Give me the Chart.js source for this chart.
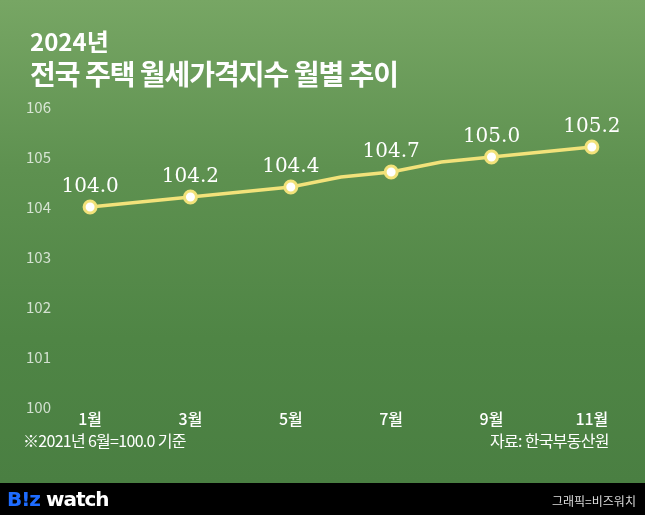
<!DOCTYPE html><html><head><meta charset="utf-8">
<script src="https://cdn.jsdelivr.net/npm/chart.js@4"></script>
<style>
body{margin:0;width:645px;height:515px;overflow:hidden;font-family:"Noto Sans CJK KR",sans-serif;}
#bg{position:absolute;left:0;top:0;width:645px;height:483px;background:linear-gradient(180deg,#77a664 0%,#5e9150 35%,#4f8545 70%,#4a7f42 100%);}
#foot{position:absolute;left:0;top:483px;width:645px;height:32px;background:#000;}
.t{position:absolute;color:#fff;white-space:nowrap;}
canvas{position:absolute;left:0;top:0;}
</style></head><body>
<div id="bg"></div><div id="foot"></div>
<canvas id="c" width="645" height="515"></canvas>
<div class="t" style="left:30px;top:23px;font-size:24px;font-weight:700;">2024년</div>
<div class="t" style="left:30px;top:53px;font-size:28px;font-weight:700;letter-spacing:-1px">전국 주택 월세가격지수 월별 추이</div>
<div class="t" style="left:23px;top:428px;font-size:16px;letter-spacing:-0.7px">※2021년 6월=100.0 기준</div>
<div class="t" style="left:490px;top:428px;font-size:16px;letter-spacing:-0.7px">자료: 한국부동산원</div>
<div class="t" style="left:7px;top:487px;font-size:20px;font-weight:900;font-family:'DejaVu Sans',sans-serif;letter-spacing:-1px"><span style="color:#1e6cff">B!z</span> watch</div>
<div class="t" style="left:552px;top:492px;font-size:12px;color:#ddd">그래픽=비즈워치</div>
<script>
const months=[1,2,3,4,5,6,7,8,9,10,11];
const values=[104.0,104.1,104.2,104.3,104.4,104.6,104.7,104.9,105.0,105.1,105.2];
const yTicks=[100,101,102,103,104,105,106];
const xTicks=[1,3,5,7,9,11];
const labelPlugin={id:'lbl',afterDatasetsDraw(ch){const c=ch.ctx;const m=ch.getDatasetMeta(0);c.save();c.fillStyle='#fff';c.font='20px "DejaVu Serif","Liberation Serif",serif';c.textAlign='center';c.textBaseline='bottom';
m.data.forEach((p,i)=>{if(xTicks.includes(months[i]))c.fillText(values[i].toFixed(1),p.x,p.y-10);});c.restore();}};
new Chart(document.getElementById('c'),{type:'line',
data:{datasets:[{data:months.map((m,i)=>({x:m,y:values[i]})),borderColor:'#f2e27a',borderWidth:3.5,
pointRadius:months.map(m=>xTicks.includes(m)?6:0),pointBackgroundColor:'#fff',pointBorderColor:'#f2e27a',pointBorderWidth:3,tension:0}]},
options:{responsive:false,animation:false,layout:{padding:{top:107,right:13,bottom:0,left:0}},
plugins:{legend:{display:false},tooltip:{enabled:false}},
scales:{x:{type:'linear',min:0.5,max:11.8,grid:{display:false,drawTicks:false},border:{display:false},
afterBuildTicks(s){s.ticks=xTicks.map(v=>({value:v}));},afterFit(s){s.height=108;},
ticks:{color:'#fff',padding:2,font:{size:16,weight:'500',family:'"Noto Sans CJK KR"'},callback:v=>v+'월',autoSkip:false,maxRotation:0}},
y:{min:100,max:106,grid:{display:false},border:{display:false},afterBuildTicks(s){s.ticks=yTicks.map(v=>({value:v}));},afterFit(s){s.width=65;},
ticks:{color:'rgba(255,255,255,0.75)',padding:6,font:{size:15,family:'"Noto Sans CJK KR"'}}}}},
plugins:[labelPlugin]});
</script></body></html>
